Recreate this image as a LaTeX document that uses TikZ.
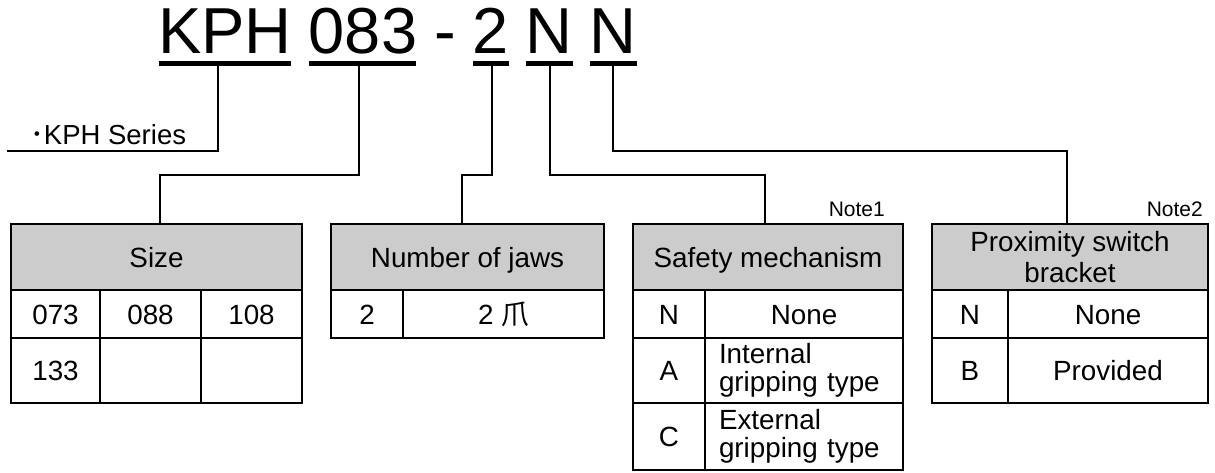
\documentclass[tikz,border=0pt]{standalone}
\usepackage{fontspec}
\setmainfont{Liberation Sans}
\newfontfamily\cjk{Noto Sans CJK JP}
\definecolor{hdr}{RGB}{204,204,204}
\newcommand\cellbox[6][]{\node[cell,#1,minimum width={#4-#2},minimum height={#5-#3}] (#6) at ({(#2+#4)/2},{(#3+#5)/2})}
\begin{document}
\begin{tikzpicture}[x=1pt,y=-1pt,
  ttl/.style={font=\fontsize{65}{70}\selectfont, inner sep=0pt, anchor=base},
  uline/.style={line width=5pt},
  conn/.style={line width=1.3pt},
  cell/.style={draw, line width=1.8pt, inner sep=0pt, outer sep=0pt, font=\fontsize{27.8}{28}\selectfont, text height=20pt, text depth=0pt},
  multi/.style={text height=, text depth=},
  note/.style={font=\fontsize{21}{24}\selectfont, inner sep=0pt, anchor=base east},
  lbl/.style={font=\fontsize{27.5}{28}\selectfont, inner sep=0pt, anchor=base west}]
\useasboundingbox (0,0) rectangle (1215,473);
% title
\node[ttl] (tK) at (225,54) {KPH};
\node[ttl] (t0) at (363,54) {083};
\node[ttl] (td) at (445,54) {-};
\node[ttl] (t2) at (490.5,54) {2};
\node[ttl] (tN1) at (549,54) {N};
\node[ttl] (tN2) at (612.5,54) {N};
\draw[uline] (159,63.5) -- (291,63.5);
\draw[uline] (309,63.5) -- (416,63.5);
\draw[uline] (473,63.5) -- (509,63.5);
\draw[uline] (526,63.5) -- (573,63.5);
\draw[uline] (590,63.5) -- (637,63.5);
\coordinate (aK) at (218,63.5);
\coordinate (a0) at (359,63.5);
\coordinate (a2) at (492,63.5);
\coordinate (aN1) at (550,63.5);
\coordinate (aN2) at (613,63.5);
\coordinate (sEnd) at (7,151);
\coordinate (b0) at (160,175);
\coordinate (b2) at (462,175);
\coordinate (bN1) at (765,175);
\coordinate (bN2) at (1067,151);
% series
\node[lbl] (ser) at (30,145) {{\cjk ･}KPH Series};
% notes
\node[note] (n1) at (885,217) {Note1};
\node[note] (n2) at (1203,217) {Note2};
% size table
\cellbox[fill=hdr]{11}{224}{302}{290}{hSize}{Size};
\cellbox{11}{290}{100}{338}{s1}{073};
\cellbox{100}{290}{201}{338}{s2}{088};
\cellbox{201}{290}{302}{338}{s3}{108};
\cellbox{11}{338}{100}{403}{s4}{133};
\cellbox{100}{338}{201}{403}{s5}{};
\cellbox{201}{338}{302}{403}{s6}{};
% jaws table
\cellbox[fill=hdr]{331}{224}{604}{290}{hJaw}{Number of jaws};
\cellbox{331}{290}{403}{338}{j1}{2};
\cellbox{403}{290}{604}{338}{j2}{2 {\cjk 爪}};
% safety table
\cellbox[fill=hdr]{633}{224}{903}{290}{hSafe}{Safety mechanism};
\cellbox{633}{290}{705}{338}{f1}{N};
\cellbox{705}{290}{903}{338}{f2}{None};
\cellbox{633}{338}{705}{403}{f3}{A};
\cellbox[multi,align=left,text width=170pt]{705}{338}{903}{403}{f4}{Internal\\gripping type};
\cellbox{633}{403}{705}{470}{f5}{C};
\cellbox[multi,align=left,text width=170pt]{705}{403}{903}{470}{f6}{External\\gripping type};
% proximity table
\cellbox[fill=hdr,multi,align=center,font=\fontsize{27.8}{31}\selectfont]{932}{224}{1208}{290}{hProx}{Proximity switch\\bracket};
\cellbox{932}{290}{1008}{338}{p1}{N};
\cellbox{1008}{290}{1208}{338}{p2}{None};
\cellbox{932}{338}{1008}{403}{p3}{B};
\cellbox{1008}{338}{1208}{403}{p4}{Provided};
% connectors
\draw[conn] (aK) |- (sEnd);
\draw[conn] (a0) |- (b0) -- (b0 |- hSize.north);
\draw[conn] (a2) |- (b2) -- (b2 |- hJaw.north);
\draw[conn] (aN1) |- (bN1) -- (bN1 |- hSafe.north);
\draw[conn] (aN2) |- (bN2) -- (bN2 |- hProx.north);
\end{tikzpicture}
\end{document}
